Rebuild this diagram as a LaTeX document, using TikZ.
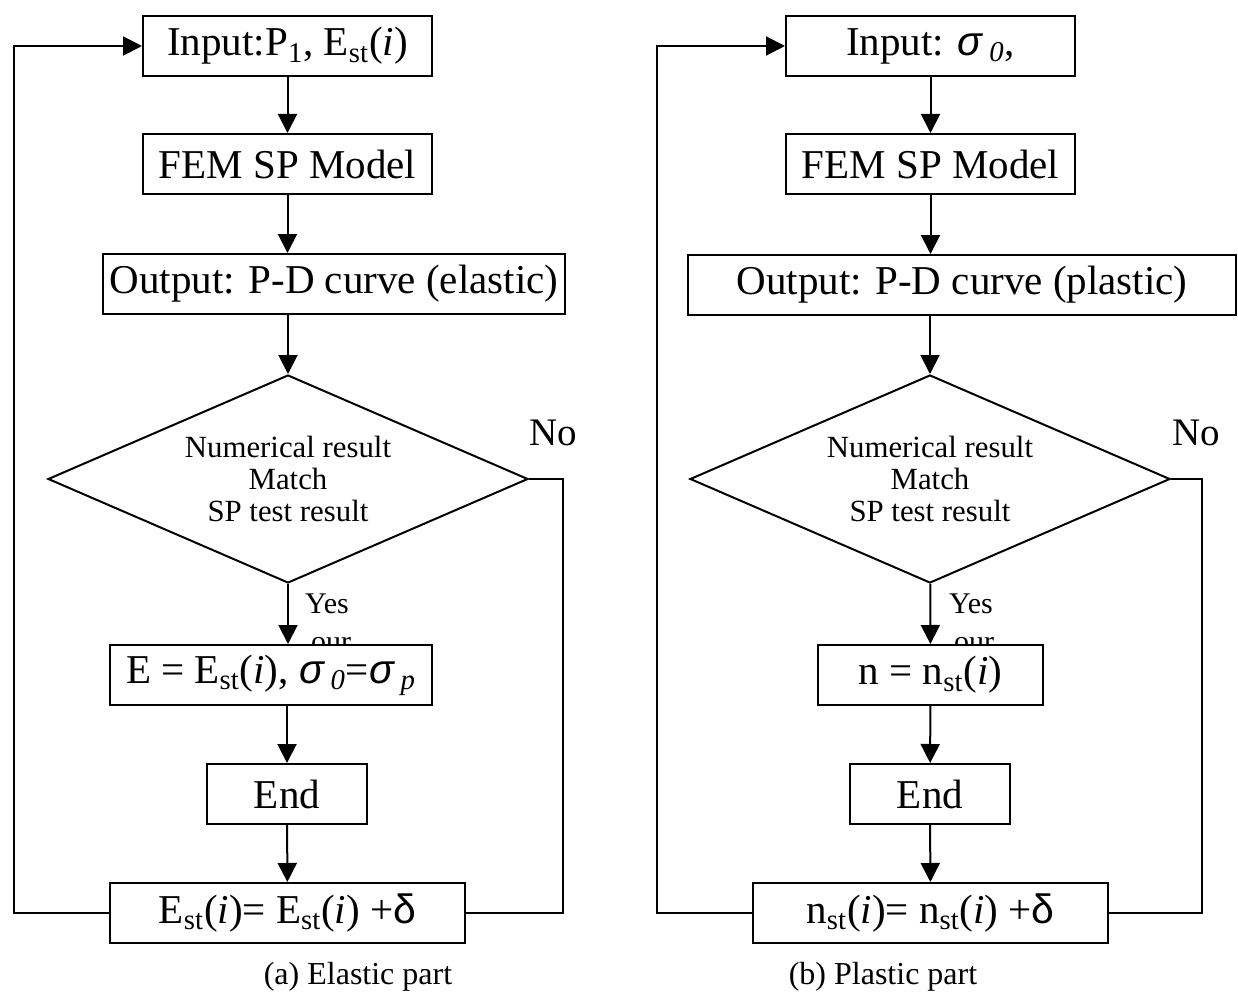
\documentclass[tikz,border=0pt]{standalone}
\usepackage{fontspec}
\setmainfont{Liberation Serif}
\newfontfamily\symfont{Liberation Sans}
\usepackage{tikz}
\usetikzlibrary{arrows,arrows.meta,positioning,shapes.geometric}
\tikzset{font=\fontsize{20.5pt}{24pt}\selectfont}
\tikzstyle{blk}=[draw,rectangle,inner sep=0pt,minimum height=30pt,line width=1pt]
\tikzstyle{dec}=[draw,diamond,aspect=2.3,inner sep=0pt,minimum width=240pt,minimum height=104pt,align=center,line width=1pt,font=\fontsize{15.4pt}{16pt}\selectfont]
\tikzstyle{lbl}=[inner sep=0pt,font=\fontsize{15pt}{16pt}\selectfont]
\tikzstyle{nolbl}=[inner sep=0pt,font=\fontsize{19.5pt}{20pt}\selectfont]
\tikzstyle{captxt}=[inner sep=0pt,anchor=base,font=\fontsize{16pt}{18pt}\selectfont]
\newcommand{\st}{\textsubscript{st}}
\newcommand{\sig}{{\symfont\itshape σ}}
\newcommand{\dlt}{{\symfont δ}}

\begin{document}
\begin{tikzpicture}[x=0.5pt,y=-0.5pt,line width=1pt,>={Triangle[length=9.5pt,width=9.5pt]}]
\useasboundingbox (0,0) rectangle (1238,995);
% (a) elastic part
\node[blk,minimum width=144.5pt] (inA) at (287.5,46) {Input:P\textsubscript{1}, E\st(\textit{i})};
\node[blk,minimum width=144.5pt] (femA) at (287.5,164) {FEM SP Model};
\node[blk,minimum width=231pt] (outA) at (334,284) {Output: P-D curve (elastic)};
\node[dec] (decA) at (288,479) {Numerical result\\Match\\SP test result};
\node[nolbl] (noA) at (553,433) {No};
\node[lbl] (yesA) at (327,604) {Yes};
\node[lbl,anchor=base] (ourA) at (331,651) {our};
\node[blk,fill=white,minimum width=161pt] (resA) at (271,675) {E = E\st(\textit{i}), \sig\,\textsubscript{\textit{0}}=\sig\,\textsubscript{\textit{p}}};
\node[blk,minimum width=80pt] (endA) at (287,794) {End};
\node[blk,minimum width=177.5pt] (updA) at (287.5,913) {E\st(\textit{i})= E\st(\textit{i}) +\dlt};
\node[captxt] (capA) at (358,984) {(a) Elastic part};
\coordinate (lA) at (14,913);
\coordinate (rA) at (563,913);
\draw[->] (inA) -- (femA);
\draw[->] (femA.south) -- (femA.south |- outA.north);
\draw[->] (outA.south -| decA.north) -- (decA.north);
\draw[->] (decA.south) -- (decA.south |- resA.north);
\draw[->] (endA.north |- resA.south) -- (endA.north);
\draw[->] (endA) -- (updA);
\draw[->] (updA.west) -- (lA) |- (inA.west);
\draw (decA.east) -| (rA) -- (updA.east);
% (b) plastic part
\node[blk,minimum width=144.5pt] (inB) at (930.5,46) {Input: \sig\,\textsubscript{\textit{0}},};
\node[blk,minimum width=144.5pt] (femB) at (930.5,164) {FEM SP Model};
\node[blk,minimum width=274pt] (outB) at (962,285) {Output: P-D curve (plastic)};
\node[dec] (decB) at (930,479) {Numerical result\\Match\\SP test result};
\node[nolbl] (noB) at (1196,433) {No};
\node[lbl] (yesB) at (971,604) {Yes};
\node[lbl,anchor=base] (ourB) at (974,651) {our};
\node[blk,fill=white,minimum width=112.5pt] (resB) at (930.5,675) {n = n\st(\textit{i})};
\node[blk,minimum width=80pt] (endB) at (930,794) {End};
\node[blk,minimum width=177.5pt] (updB) at (930.5,913) {n\st(\textit{i})= n\st(\textit{i}) +\dlt};
\node[captxt] (capB) at (883,984) {(b) Plastic part};
\coordinate (lB) at (657,913);
\coordinate (rB) at (1202,913);
\draw[->] (inB) -- (femB);
\draw[->] (femB.south) -- (femB.south |- outB.north);
\draw[->] (outB.south -| decB.north) -- (decB.north);
\draw[->] (decB) -- (resB);
\draw[->] (resB) -- (endB);
\draw[->] (endB) -- (updB);
\draw[->] (updB.west) -- (lB) |- (inB.west);
\draw (decB.east) -| (rB) -- (updB.east);
\end{tikzpicture}
\end{document}
